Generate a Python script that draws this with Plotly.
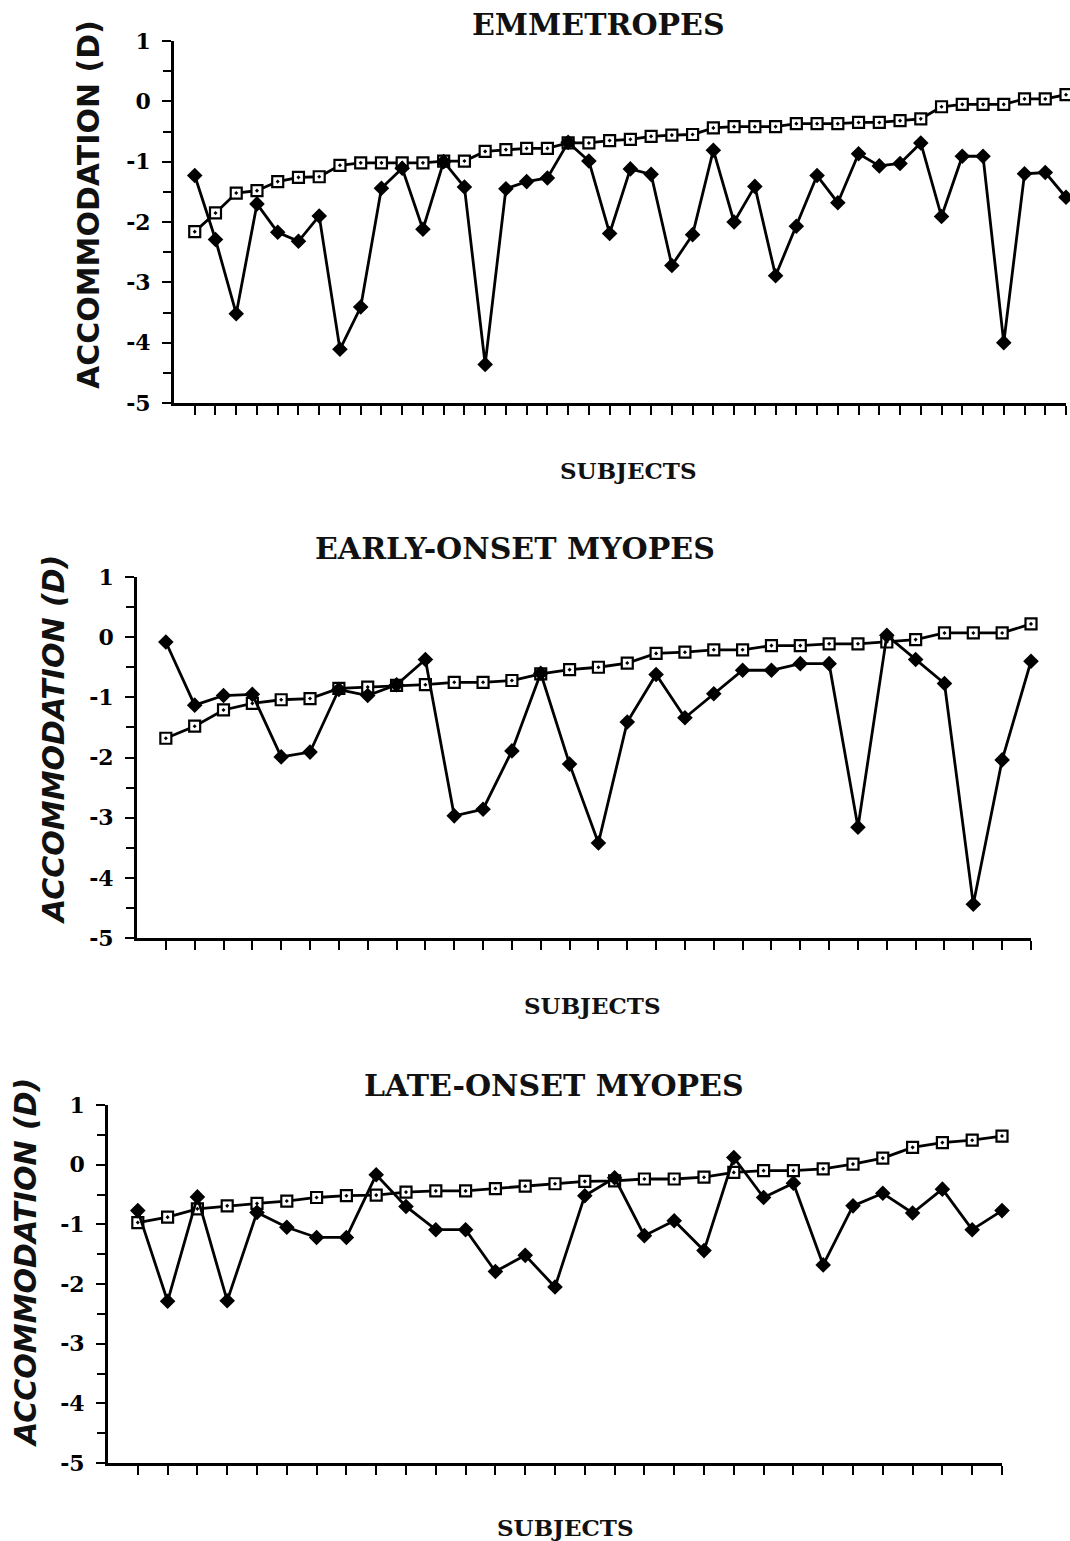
import plotly.graph_objects as go

W, H = 1070, 1541

# Accommodation (D) per subject; open squares rise monotonically, filled diamonds scatter below
emm_open = [-2.16, -1.85, -1.52, -1.48, -1.33, -1.26, -1.25, -1.06, -1.02, -1.02,
            -1.02, -1.02, -0.99, -0.99, -0.83, -0.80, -0.78, -0.78, -0.69, -0.69,
            -0.65, -0.63, -0.58, -0.56, -0.55, -0.44, -0.42, -0.42, -0.42, -0.37,
            -0.37, -0.37, -0.35, -0.35, -0.32, -0.29, -0.09, -0.05, -0.05, -0.05,
            0.04, 0.04, 0.11]
emm_solid = [-1.23, -2.29, -3.52, -1.70, -2.17, -2.32, -1.90, -4.11, -3.41, -1.44,
             -1.11, -2.12, -1.00, -1.42, -4.36, -1.45, -1.33, -1.27, -0.68, -0.99,
             -2.19, -1.12, -1.21, -2.72, -2.21, -0.81, -2.00, -1.41, -2.89, -2.07,
             -1.23, -1.68, -0.87, -1.07, -1.03, -0.69, -1.91, -0.91, -0.91, -4.00,
             -1.20, -1.18, -1.59]

eom_open = [-1.68, -1.48, -1.21, -1.10, -1.04, -1.02, -0.85, -0.83, -0.80, -0.79,
            -0.75, -0.75, -0.72, -0.61, -0.54, -0.50, -0.43, -0.27, -0.25, -0.21,
            -0.21, -0.14, -0.14, -0.11, -0.11, -0.08, -0.04, 0.07, 0.07, 0.07, 0.22]
eom_solid = [-0.08, -1.13, -0.97, -0.95, -1.99, -1.91, -0.87, -0.97, -0.79, -0.37,
             -2.97, -2.86, -1.89, -0.60, -2.11, -3.42, -1.41, -0.62, -1.34, -0.94,
             -0.55, -0.55, -0.44, -0.44, -3.16, 0.03, -0.37, -0.77, -4.44, -2.04, -0.40]

lom_open = [-0.97, -0.88, -0.74, -0.69, -0.65, -0.61, -0.55, -0.52, -0.51, -0.46,
            -0.44, -0.44, -0.40, -0.36, -0.32, -0.28, -0.27, -0.24, -0.24, -0.21,
            -0.13, -0.10, -0.10, -0.07, 0.01, 0.11, 0.29, 0.37, 0.41, 0.48]
lom_solid = [-0.77, -2.29, -0.54, -2.28, -0.80, -1.05, -1.22, -1.22, -0.17, -0.70,
             -1.09, -1.09, -1.79, -1.52, -2.05, -0.52, -0.22, -1.19, -0.94, -1.44,
             0.12, -0.55, -0.31, -1.68, -0.69, -0.48, -0.81, -0.41, -1.09, -0.77]

panel_titles = ["EMMETROPES", "EARLY-ONSET MYOPES", "LATE-ONSET MYOPES"]
x_title = "SUBJECTS"
y_title = "ACCOMMODATION (D)"
ytick_vals = [1, 0, -1, -2, -3, -4, -5]
ytick_text = ["1", "0", "-1", "-2", "-3", "-4", "-5"]

# pixel boxes of the three plot areas: (left, right, top, bottom)
boxes = [(174, 1066, 41, 403), (137, 1031, 577, 938), (108, 1002, 1105, 1463)]
title_pos = [(598, 25), (515, 548), (554, 1085)]
xlab_pos = [(628, 470), (592, 1005), (565, 1527)]
ylab_pos = [(88, 205, "normal"), (54, 740, "italic"), (25, 1263, "italic")]

series = [(emm_open, emm_solid), (eom_open, eom_solid), (lom_open, lom_solid)]

def px(x):
    return x / W

def py(y):
    return 1 - y / H

fig = go.Figure()
layout = dict(width=W, height=H, margin=dict(l=0, r=0, t=0, b=0, autoexpand=False),
              paper_bgcolor="white", plot_bgcolor="white", showlegend=False)
annotations = []

for i, (opn, sol) in enumerate(series):
    n = len(opn)
    subj = list(range(1, n + 1))
    sfx = "" if i == 0 else str(i + 1)
    xa, ya = "x" + sfx, "y" + sfx
    fig.add_trace(go.Scatter(
        x=subj, y=opn, mode="lines+markers", xaxis=xa, yaxis=ya,
        line=dict(color="black", width=2.8),
        marker=dict(symbol="square-dot", size=11, color="white",
                    line=dict(color="black", width=2.2)),
        cliponaxis=False))
    fig.add_trace(go.Scatter(
        x=subj, y=sol, mode="lines+markers", xaxis=xa, yaxis=ya,
        line=dict(color="black", width=2.8),
        marker=dict(symbol="diamond", size=12, color="black"),
        cliponaxis=False))

    l, r, t, b = boxes[i]
    layout["xaxis" + sfx] = dict(
        domain=[px(l), px(r)], range=[0, n], anchor=ya, automargin=False,
        showline=True, linecolor="black", linewidth=2.8,
        tickvals=subj, ticks="outside", ticklen=9, tickwidth=2.2, tickcolor="black",
        showticklabels=False, showgrid=False, zeroline=False)
    layout["yaxis" + sfx] = dict(
        domain=[py(b), py(t)], range=[-5, 1], anchor=xa, automargin=False,
        showline=True, linecolor="black", linewidth=2.8,
        tickvals=ytick_vals, ticktext=ytick_text,
        ticks="outside", ticklen=9, tickwidth=2.2, tickcolor="black",
        ticklabelstandoff=7,
        minor=dict(dtick=0.5, tick0=0, ticks="outside", ticklen=8,
                   tickwidth=2.2, tickcolor="black", showgrid=False),
        tickfont=dict(family="DejaVu Serif", size=22, color="black", weight="bold"),
        showgrid=False, zeroline=False)

    tx, ty = title_pos[i]
    annotations.append(dict(
        text=panel_titles[i], x=px(tx), y=py(ty), xref="paper", yref="paper",
        xanchor="center", yanchor="middle", showarrow=False,
        font=dict(family="DejaVu Serif", size=30, color="#111", weight="bold")))
    sx, sy = xlab_pos[i]
    annotations.append(dict(
        text=x_title, x=px(sx), y=py(sy), xref="paper", yref="paper",
        xanchor="center", yanchor="middle", showarrow=False,
        font=dict(family="DejaVu Serif", size=23, color="#111", weight="bold")))
    lx, ly, style = ylab_pos[i]
    annotations.append(dict(
        text=y_title, x=px(lx), y=py(ly), xref="paper", yref="paper",
        xanchor="center", yanchor="middle", showarrow=False, textangle=-90,
        font=dict(family="DejaVu Sans", size=30, color="#111",
                  weight="bold", style=style)))

layout["annotations"] = annotations
fig.update_layout(**layout)
fig.write_html("out.html")
